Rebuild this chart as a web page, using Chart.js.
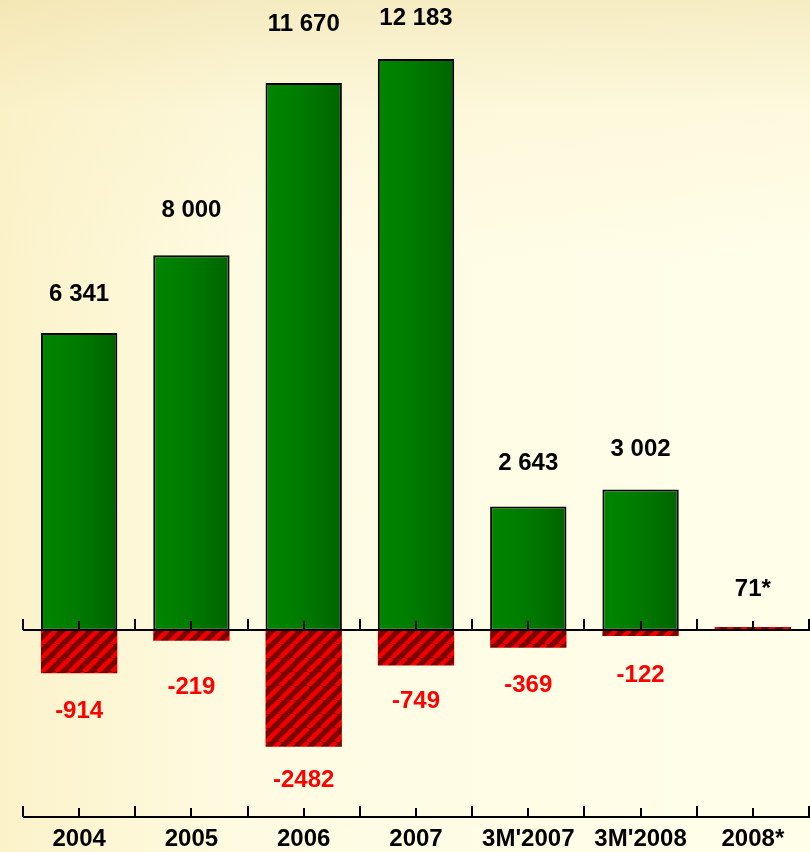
<!DOCTYPE html>
<html>
<head>
<meta charset="utf-8">
<script src="https://cdn.jsdelivr.net/npm/chart.js@4.4.1/dist/chart.umd.min.js"></script>
<style>
    html, body { margin: 0; padding: 0; }
    body {
        width: 810px; height: 852px; overflow: hidden;
        background:
            linear-gradient(180deg, rgba(238, 222, 165, 0.55) 0px, rgba(248, 238, 195, 0.3) 110px, rgba(255, 253, 230, 0) 260px),
            linear-gradient(90deg, #fbf2c9 0%, #fefbe2 30%, #fffee9 100%);
    }
    .wrap { position: relative; width: 810px; height: 852px; }
</style>
</head>
<body>
<div class="wrap"><canvas id="chart"></canvas></div>
<script>
const categories = ['2004', '2005', '2006', '2007', "3M'2007", "3M'2008", '2008*'];
const revenue = [6341, 8000, 11670, 12183, 2643, 3002, null];
const netResult = [-914, -219, -2482, -749, -369, -122, 71];

// label offsets from the bar end, px (style only)
const greenLift = [39, 45, 59, 41, 43, 40, 0];
const redDrop = [38, 47, 34, 36, 38, 39, 38];

const FONT = 'bold 24px "Liberation Sans", Arial, sans-serif';
const BAR_PCT = 0.68;

function hatchPattern(ctx) {
    const c = document.createElement('canvas');
    const s = 14;
    c.width = s; c.height = s;
    const p = c.getContext('2d');
    p.fillStyle = '#7d0000';
    p.fillRect(0, 0, s, s);
    p.strokeStyle = '#f20000';
    p.lineWidth = 4.5;
    for (const off of [-s, 0, s]) {
        p.beginPath();
        p.moveTo(off, s);
        p.lineTo(off + s, 0);
        p.stroke();
    }
    return ctx.createPattern(c, 'repeat');
}

function greenFill(c) {
    const chart = c.chart;
    if (!chart.chartArea || c.dataIndex === undefined) return '#007a00';
    const x = chart.scales.x.getPixelForValue(c.dataIndex);
    const w = chart.scales.x.width / categories.length * BAR_PCT;
    const g = chart.ctx.createLinearGradient(x - w / 2, 0, x + w / 2, 0);
    g.addColorStop(0, '#008600');
    g.addColorStop(0.5, '#007a00');
    g.addColorStop(1, '#006400');
    return g;
}

const fmt = v => String(Math.abs(v)).replace(/\B(?=(\d{3})+(?!\d))/g, ' ');

const axesPlugin = {
    id: 'axesPlugin',
    afterDatasetsDraw(chart) {
        const { ctx, chartArea, scales } = chart;
        const x = scales.x, y = scales.y;
        const n = categories.length;
        const drawAxis = (yy) => {
            ctx.save();
            ctx.strokeStyle = '#000';
            ctx.lineWidth = 2;
            ctx.beginPath();
            ctx.moveTo(chartArea.left, yy);
            ctx.lineTo(chartArea.right + 1, yy);
            ctx.stroke();
            for (let i = 0; i <= n; i++) {
                const bx = Math.round(x.getPixelForValue(i - 0.5));
                ctx.beginPath();
                ctx.moveTo(bx, yy);
                ctx.lineTo(bx, yy - 11);
                ctx.stroke();
            }
            for (let i = 0; i < n; i++) {
                const cx = Math.round(x.getPixelForValue(i));
                ctx.beginPath();
                ctx.moveTo(cx, yy);
                ctx.lineTo(cx, yy - 9);
                ctx.stroke();
            }
            ctx.restore();
        };
        drawAxis(Math.round(y.getPixelForValue(0)));
        drawAxis(chartArea.bottom - 1);

        // value labels
        ctx.save();
        ctx.font = FONT;
        ctx.textAlign = 'center';
        ctx.textBaseline = 'middle';
        const gMeta = chart.getDatasetMeta(0);
        const rMeta = chart.getDatasetMeta(1);
        revenue.forEach((v, i) => {
            if (v === null) return;
            const bar = gMeta.data[i];
            ctx.fillStyle = '#000';
            ctx.fillText(fmt(v), bar.x, bar.y - greenLift[i]);
        });
        netResult.forEach((v, i) => {
            const bar = rMeta.data[i];
            if (v < 0) {
                ctx.fillStyle = '#ff0000';
                ctx.fillText('-' + Math.abs(v), bar.x, bar.y + redDrop[i]);
            } else {
                ctx.fillStyle = '#000';
                ctx.fillText(v + '*', bar.x, bar.y - redDrop[i]);
            }
        });
        ctx.restore();
    }
};

const canvas = document.getElementById('chart');
const ctx = canvas.getContext('2d');

new Chart(ctx, {
    type: 'bar',
    data: {
        labels: categories,
        datasets: [{
            label: 'Revenue',
            data: revenue,
            backgroundColor: greenFill,
            borderColor: '#000',
            borderWidth: 2,
            borderSkipped: false,
            categoryPercentage: 1,
            barPercentage: BAR_PCT
        }, {
            label: 'Net result',
            data: netResult,
            backgroundColor: hatchPattern(ctx),
            borderWidth: 0,
            categoryPercentage: 1,
            barPercentage: BAR_PCT
        }]
    },
    options: {
        responsive: true,
        maintainAspectRatio: false,
        animation: false,
        layout: { padding: { left: 23, right: 1, top: 0, bottom: 0 } },
        scales: {
            x: {
                stacked: true,
                grid: { display: false, drawTicks: false },
                border: { display: false },
                ticks: {
                    color: '#000',
                    font: { family: '"Liberation Sans", Arial, sans-serif', size: 24, weight: 'bold' },
                    padding: 7,
                    maxRotation: 0,
                    autoSkip: false
                },
                afterFit(s) { s.height = 34; }
            },
            y: {
                stacked: true,
                display: false,
                min: -4000,
                max: 13440
            }
        },
        plugins: {
            legend: { display: false },
            tooltip: { enabled: false }
        }
    },
    plugins: [axesPlugin]
});
</script>
</body>
</html>
